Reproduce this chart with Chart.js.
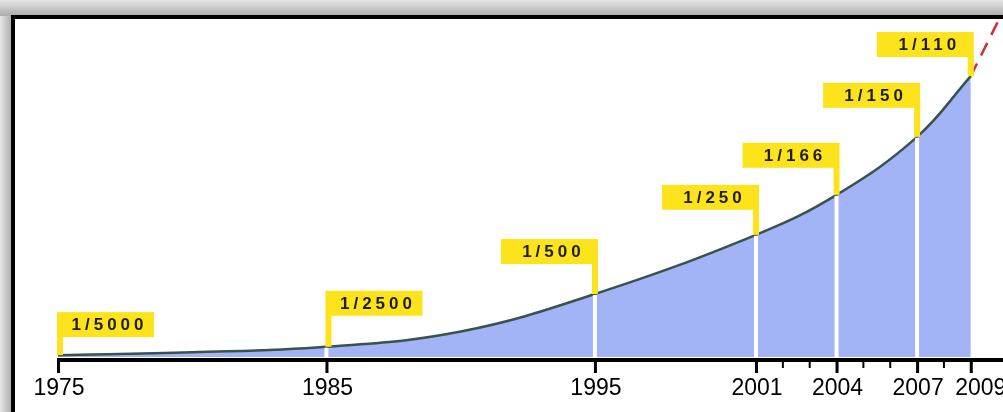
<!DOCTYPE html>
<html>
<head>
<meta charset="utf-8">
<script src="https://cdn.jsdelivr.net/npm/chart.js@4/dist/chart.umd.min.js"></script>
<style>
  html, body { margin: 0; padding: 0; background: #fff; }
  #wrap { width: 1003px; height: 412px; }
</style>
</head>
<body>
<div id="wrap"><canvas id="rateChart" width="1003" height="412"></canvas></div>
<script>
// curve (height of the curve, roughly cases per 10,000)
const curveYears = [1975, 1980, 1985, 1990, 1995, 2001, 2004, 2007, 2009];
const curveValues = [0.6, 1.5, 3.3, 8.2, 20.3, 39.4, 52.3, 71, 90.6];

// dashed projection past 2009
const projectionYears = [2009, 2010];
const projectionValues = [90.6, 108];

const labelYears = [1975, 1985, 1995, 2001, 2004, 2007, 2009];
const rateLabels = ["1/5000", "1/2500", "1/500", "1/250", "1/166", "1/150", "1/110"];
const minorTickYears = [2002, 2003, 2005, 2006, 2008];

// layout only: how far each yellow box sits above the curve, which side the stem is on
const labelLift = [18, 31, 30, 25, 27, 29, 19];
const stemOnLeft = [true, true, false, false, false, false, false];

const COLORS = {
  fill: "#a2b3f6",
  line: "#3a524c",
  projection: "#c8323a",
  yellow: "#fde31c",
  labelText: "#1e1e1e",
};

const FONT = "'Liberation Sans', Arial, sans-serif";

const toPoints = (xs, ys) => xs.map((x, i) => ({ x, y: ys[i] }));

const decorations = {
  id: "decorations",
  beforeDraw: (chart) => {
    const { ctx, width, height } = chart;
    ctx.save();
    // grey shadow round the frame
    ctx.fillStyle = "#dcdcdc";
    ctx.fillRect(0, 0, width, height);
    let g = ctx.createLinearGradient(0, 0, 0, 16);
    g.addColorStop(0, "#e6e6e6");
    g.addColorStop(1, "#ababab");
    ctx.fillStyle = g;
    ctx.fillRect(0, 0, width, 16);
    g = ctx.createLinearGradient(0, 0, 12, 0);
    g.addColorStop(0, "#e6e6e6");
    g.addColorStop(1, "#ababab");
    ctx.fillStyle = g;
    ctx.fillRect(0, 16, 12, height);
    // frame
    ctx.fillStyle = "#ffffff";
    ctx.fillRect(11, 15, width, height);
    ctx.fillStyle = "#000000";
    ctx.fillRect(11, 15, 4, height);
    ctx.fillRect(11, 15, width, 4);
    ctx.restore();
  },
  afterDatasetsDraw: (chart) => {
    const { ctx } = chart;
    const x = chart.scales.x;
    const y = chart.scales.y;
    const base = y.getPixelForValue(0);
    const curveAt = (yr) => y.getPixelForValue(curveValues[curveYears.indexOf(yr)]);

    ctx.save();

    // white drop lines under the curve
    ctx.fillStyle = "#ffffff";
    labelYears.slice(1, -1).forEach((yr) => {
      const px = x.getPixelForValue(yr);
      const top = curveAt(yr) + 1;
      ctx.fillRect(px - 2, top, 4, base - top);
    });

    // axis line and ticks
    ctx.fillStyle = "#000000";
    ctx.fillRect(x.left, base + 1, chart.width - x.left, 4);
    labelYears.forEach((yr) => {
      const px = x.getPixelForValue(yr);
      ctx.fillRect(px - 1, base + 1, 3, 15);
    });
    minorTickYears.forEach((yr) => {
      const px = x.getPixelForValue(yr);
      ctx.fillRect(px - 1, base + 1, 2, 10);
    });

    // year labels
    ctx.font = `23px ${FONT}`;
    ctx.textAlign = "center";
    ctx.textBaseline = "alphabetic";
    labelYears.forEach((yr, i) => {
      let px = x.getPixelForValue(yr) + 1;
      if (i === labelYears.length - 1) px += 9;
      ctx.fillText(String(yr), px, base + 38);
    });

    // yellow rate boxes with stems
    const boxW = 97;
    const boxH = 25;
    const stemW = 6;
    ctx.font = `bold 17px ${FONT}`;
    ctx.letterSpacing = "4px";
    ctx.textBaseline = "middle";
    labelYears.forEach((yr, i) => {
      const px = x.getPixelForValue(yr);
      const cy = curveAt(yr);
      const boxBottom = cy - labelLift[i];
      const boxTop = boxBottom - boxH;
      const boxLeft = stemOnLeft[i] ? px - 1 : px + 3 - boxW;
      const stemLeft = stemOnLeft[i] ? px - 1 : px + 3 - stemW;
      ctx.fillStyle = COLORS.yellow;
      ctx.fillRect(boxLeft, boxTop, boxW, boxH);
      ctx.fillRect(stemLeft, boxBottom - 1, stemW, cy - boxBottom + 1);
      ctx.fillStyle = COLORS.labelText;
      ctx.fillText(rateLabels[i], boxLeft + boxW / 2 + 4, boxTop + boxH / 2 + 1);
    });

    ctx.restore();
  },
};

const ctx = document.getElementById("rateChart").getContext("2d");

new Chart(ctx, {
  type: "line",
  data: {
    datasets: [
      {
        label: "Rate",
        data: toPoints(curveYears, curveValues),
        borderColor: COLORS.line,
        borderWidth: 2.5,
        backgroundColor: COLORS.fill,
        fill: "origin",
        pointRadius: 0,
        tension: 0.4,
      },
      {
        label: "Projection",
        data: toPoints(projectionYears, projectionValues),
        borderColor: COLORS.projection,
        borderWidth: 2.5,
        borderDash: [14, 9],
        fill: false,
        pointRadius: 0,
      },
    ],
  },
  options: {
    responsive: false,
    animation: false,
    events: [],
    layout: {
      padding: { left: 58, right: 0, top: 19, bottom: 55 },
    },
    plugins: {
      legend: { display: false },
      tooltip: { enabled: false },
    },
    scales: {
      x: { type: "linear", min: 1975, max: 2010.2, display: false },
      y: { min: 0, max: 109, display: false },
    },
  },
  plugins: [decorations],
});
</script>
</body>
</html>
